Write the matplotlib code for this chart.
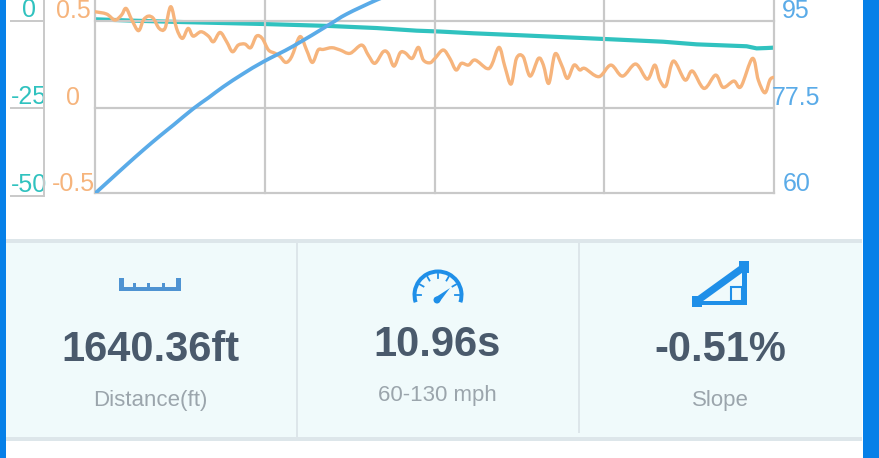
import matplotlib
matplotlib.use("Agg")
import matplotlib.pyplot as plt
from matplotlib.patches import Rectangle, Wedge, Circle, Polygon, PathPatch
from matplotlib.path import Path
from matplotlib.transforms import ScaledTranslation

plt.rcParams['font.family'] = ['Liberation Sans', 'DejaVu Sans']

# distance (ft) / slope-ish trace
orange_x = [0, 28, 48, 64, 75, 89, 105, 117, 129, 141, 155, 169, 183, 197, 211, 225, 237, 256, 274, 286,
            302, 318, 332, 346, 362, 376, 390, 404, 419, 435, 447, 461, 475, 495, 511, 525, 539, 551, 572, 592,
            616, 644, 660, 676, 696, 708, 722, 737, 749, 766, 781, 793, 809, 821, 841, 857, 872, 885, 902, 918,
            946, 958, 976, 990, 1005, 1018, 1034, 1051, 1071, 1083, 1096, 1111, 1127, 1141, 1157, 1171, 1183, 1217, 1246, 1274,
            1306, 1334, 1352, 1364, 1379, 1397, 1425, 1443, 1471, 1499, 1517, 1543, 1560, 1588, 1602, 1618, 1630, 1638]
orange_y = [0.551, 0.538, 0.504, 0.532, 0.570, 0.504, 0.443, 0.504, 0.526, 0.513, 0.456, 0.456, 0.580, 0.456, 0.399, 0.456, 0.412, 0.437, 0.412, 0.380,
            0.433, 0.380, 0.323, 0.361, 0.367, 0.346, 0.412, 0.399, 0.333, 0.314, 0.295, 0.262, 0.295, 0.409, 0.333, 0.262, 0.333, 0.336, 0.346, 0.333,
            0.314, 0.361, 0.304, 0.257, 0.323, 0.314, 0.241, 0.317, 0.317, 0.285, 0.348, 0.276, 0.260, 0.285, 0.333, 0.285, 0.219, 0.257, 0.247, 0.276,
            0.228, 0.247, 0.348, 0.238, 0.139, 0.285, 0.295, 0.184, 0.285, 0.247, 0.143, 0.310, 0.247, 0.171, 0.247, 0.219, 0.228, 0.181, 0.247, 0.184,
            0.253, 0.167, 0.247, 0.162, 0.129, 0.270, 0.162, 0.213, 0.114, 0.190, 0.120, 0.156, 0.124, 0.285, 0.162, 0.089, 0.162, 0.177]

speed_x = [0, 36, 76, 117, 157, 190, 237, 274, 310, 358, 407, 479, 564, 608, 680, 737]
speed_y = [60.5, 63.2, 66.2, 69.2, 72.0, 74.2, 77.4, 79.6, 81.8, 84.4, 86.8, 89.9, 94.1, 96.3, 99.1, 101]

teal_x = [0, 93, 213, 407, 564, 680, 777, 833, 914, 1035, 1226, 1372, 1453, 1574, 1598, 1622, 1638]
teal_y = [0.4, 0, -0.4, -0.95, -1.5, -2.1, -2.85, -3.1, -3.6, -4.2, -5.2, -6.0, -6.75, -7.3, -7.9, -7.8, -7.7]

grid_x = [0, 410, 820, 1230, 1640]

orange_ticks = [-0.485, 0, 0.5]
orange_labels = ["-0.5", "0", "0.5"]
speed_ticks = [60.5, 77.5, 95]
speed_labels = ["60", "77.5", "95"]
teal_ticks = [-50, -25, 0]
teal_labels = ["-50", "-25", "0"]

panel_values = ["1640.36ft", "10.96s", "-0.51%"]
panel_names = ["Distance(ft)", "60-130 mph", "Slope"]
panel_cx = [150, 437, 720]
panel_value_y = [347, 342, 347]
panel_name_y = [399, 394, 399]

ORANGE = "#f6b47c"
BLUE = "#5aabe8"
TEAL = "#30c2bf"
GREY = "#c9c9c9"
ICON = "#1f8fe8"
W, H = 879, 458


def lift_labels(ax, fig, dy):
    # tick labels sit above their tick in the app
    off = ScaledTranslation(0, dy / fig.dpi, fig.dpi_scale_trans)
    for lab in ax.get_yticklabels():
        lab.set_transform(lab.get_transform() + off)
        lab.set_va("center")
        lab.set_ha("center")


def box(x0, y0, x1, y1):
    return [x0 / W, 1 - y1 / H, (x1 - x0) / W, (y1 - y0) / H]


def smooth_path(xs, ys):
    # curve through the read points, the app draws a spline
    verts = [(xs[0], ys[0])]
    codes = [Path.MOVETO]
    n = len(xs)
    for i in range(n - 1):
        a, b = max(i - 1, 0), min(i + 2, n - 1)
        verts.append((xs[i] + (xs[i + 1] - xs[a]) / 6, ys[i] + (ys[i + 1] - ys[a]) / 6))
        verts.append((xs[i + 1] - (xs[b] - xs[i]) / 6, ys[i + 1] - (ys[b] - ys[i]) / 6))
        verts.append((xs[i + 1], ys[i + 1]))
        codes += [Path.CURVE4] * 3
    return Path(verts, codes)


fig = plt.figure(figsize=((W + 0.01) / 100, (H + 0.01) / 100), dpi=100, facecolor="white")

# page furniture, in pixels
bg = fig.add_axes([0, 0, 1, 1], zorder=0)
bg.set_xlim(0, W)
bg.set_ylim(H, 0)
bg.axis("off")
bg.add_patch(Rectangle((0, 0), 6, H, color="#0680e8", lw=0))
bg.add_patch(Rectangle((863, 0), 16, H, color="#0680e8", lw=0))
bg.add_patch(Rectangle((6, 243), 856, 194, color="#f0fafb", lw=0))
bg.add_patch(Rectangle((6, 239.5), 856, 3.5, color="#dde6ea", lw=0))
bg.add_patch(Rectangle((6, 437), 856, 4, color="#dde6ea", lw=0))
bg.add_patch(Rectangle((295.5, 243), 2, 194, color="#dde6ea", lw=0))
bg.add_patch(Rectangle((578, 243), 2, 190, color="#dde6ea", lw=0))

for val, name, cx, vy, ny in zip(panel_values, panel_names, panel_cx, panel_value_y, panel_name_y):
    bg.text(cx, vy + 3, val, ha="center", va="center", fontsize=30, fontweight="bold", color="#4a5a6c")
    bg.text(cx, ny + 1, name, ha="center", va="center", fontsize=16, color="#9ba5ac")

# ruler icon
rc = "#4f93d2"
bg.add_patch(Rectangle((119, 287), 62, 4, color=rc, lw=0))
bg.add_patch(Rectangle((119, 278), 5, 13, color=rc, lw=0))
bg.add_patch(Rectangle((176, 278), 5, 13, color=rc, lw=0))
for tx in (133, 147, 162):
    bg.add_patch(Rectangle((tx, 283), 3, 6, color=rc, lw=0))

# gauge icon
bg.add_patch(Wedge((438, 295), 25.5, 162, 378, width=4, color=ICON, lw=0))
for a, b, c, d in [(417, 295, 421, 295), (420, 284.5, 423.5, 286.5), (427.5, 277, 429.5, 280.5), (438, 274, 438, 278),
                   (448.5, 277, 446.5, 280.5), (456, 284.5, 452.5, 286.5), (459, 295, 455, 295)]:
    bg.plot([a, c], [b, d], color=ICON, lw=1.3)
bg.add_patch(Polygon([(434.5, 298), (439.5, 302), (450, 288)], color=ICON, lw=0))
bg.add_patch(Circle((437, 300), 3.5, color=ICON, lw=0))

# slope icon
bg.add_patch(Polygon([(695, 298), (742, 264), (746, 270), (699, 304)], color=ICON, lw=0))
bg.add_patch(Rectangle((697, 301), 50, 4, color=ICON, lw=0))
bg.add_patch(Rectangle((742, 266), 5, 39, color=ICON, lw=0))
bg.add_patch(Rectangle((739, 261), 10, 12, color=ICON, lw=0))
bg.add_patch(Rectangle((692, 296), 9.5, 11, color=ICON, lw=0))
bg.add_patch(Rectangle((731, 287), 11, 14, fill=False, ec=ICON, lw=1.5))

# teal axis has its own slightly longer scale
ax_teal = fig.add_axes(box(95, 0, 774, 196), zorder=1)
ax_teal.patch.set_visible(False)
for s in ("top", "right", "bottom"):
    ax_teal.spines[s].set_visible(False)
ax_teal.spines["left"].set_position(("outward", 36.5))
ax_teal.spines["left"].set_color(GREY)
ax_teal.spines["left"].set_linewidth(1.4)
ax_teal.plot(teal_x, teal_y, color=TEAL, lw=3, solid_capstyle="round")
ax_teal.set_xlim(0, 1640)
ax_teal.set_ylim(-50, 5.9)
ax_teal.set_xticks([])
ax_teal.set_yticks(teal_ticks, teal_labels, color=TEAL, fontsize=18)
ax_teal.tick_params(axis="y", length=24.5, width=1.4, color=GREY, pad=-13.5)
lift_labels(ax_teal, fig, 11)

ax = fig.add_axes(box(95, 0, 774, 193.5), zorder=2)
ax.patch.set_visible(False)
ax.add_patch(PathPatch(smooth_path(orange_x, orange_y), fill=False, ec=ORANGE, lw=2.4, joinstyle="round", capstyle="round"))
ax.set_xlim(0, 1640)
ax.set_ylim(-0.485, 0.618)
ax.set_xticks(grid_x, [])
ax.set_yticks(orange_ticks, orange_labels, color=ORANGE, fontsize=18)
ax.tick_params(axis="both", length=0, pad=15.5)
ax.grid(True, color=GREY, lw=1.6, clip_on=False)
ax.set_axisbelow(True)
for s in ax.spines.values():
    s.set_visible(False)
lift_labels(ax, fig, 10)

ax_speed = ax.twinx()
ax_speed.set_zorder(3)
ax_speed.add_patch(PathPatch(smooth_path(speed_x, speed_y), fill=False, ec=BLUE, lw=2.7, capstyle="round"))
ax_speed.set_ylim(60.5, 99.1)
ax_speed.set_yticks(speed_ticks, speed_labels, color=BLUE, fontsize=18)
ax_speed.tick_params(axis="y", length=0, pad=16)
for s in ax_speed.spines.values():
    s.set_visible(False)
lift_labels(ax_speed, fig, 10)

fig.savefig("out.png", dpi=100)
